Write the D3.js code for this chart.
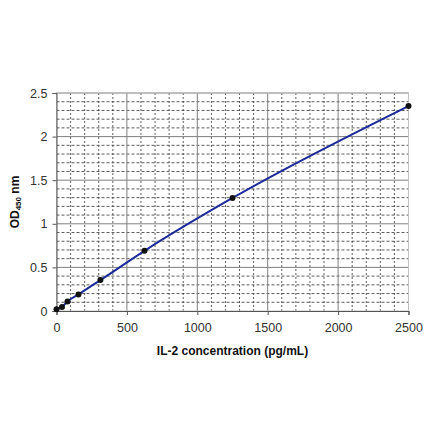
<!DOCTYPE html>
<html>
<head>
<meta charset="utf-8">
<script src="https://cdn.jsdelivr.net/npm/d3@7"></script>
<style>
  body { margin: 0; background: #fff; }
  svg { display: block; font-family: "Liberation Sans", Arial, sans-serif; }
</style>
</head>
<body>
<svg id="chart" width="440" height="441"></svg>
<script>
// IL-2 standard curve
var concentrations = [0, 39, 78, 156, 312, 625, 1250, 2500];
var odValues = [0.02, 0.046, 0.11, 0.19, 0.355, 0.69, 1.296, 2.35];
var xTicks = [0, 500, 1000, 1500, 2000, 2500];
var yTicks = [0, 0.5, 1, 1.5, 2, 2.5];

var svg = d3.select("#chart");
var margin = {left: 56.5, right: 408.5, top: 93, bottom: 311};

var x = d3.scaleLinear().domain([0, 2500]).range([margin.left, margin.right]);
var y = d3.scaleLinear().domain([0, 2.5]).range([margin.bottom, margin.top]);

// minor grid (dashed)
var minorX = d3.range(100, 2500, 100).filter(function(d) { return d % 500 != 0; });
var minorY = d3.range(1, 25).map(function(d) { return d / 10; }).filter(function(d, i) { return (i + 1) % 5 != 0; });

svg.append("g").selectAll("line").data(minorX).enter().append("line")
  .attr("x1", function(d) { return x(d); }).attr("x2", function(d) { return x(d); })
  .attr("y1", y(0)).attr("y2", y(2.5))
  .attr("stroke", "#333").attr("stroke-width", 0.8).attr("stroke-dasharray", "2,2");
svg.append("g").selectAll("line").data(minorY).enter().append("line")
  .attr("y1", function(d) { return y(d); }).attr("y2", function(d) { return y(d); })
  .attr("x1", x(0)).attr("x2", x(2500))
  .attr("stroke", "#333").attr("stroke-width", 0.8).attr("stroke-dasharray", "3,2");

// major grid (solid)
svg.append("g").selectAll("line").data(xTicks.slice(1)).enter().append("line")
  .attr("x1", function(d) { return x(d); }).attr("x2", function(d) { return x(d); })
  .attr("y1", y(0)).attr("y2", y(2.5))
  .attr("stroke", "#7f7f7f").attr("stroke-width", 1);
svg.append("g").selectAll("line").data(yTicks.slice(1)).enter().append("line")
  .attr("y1", function(d) { return y(d); }).attr("y2", function(d) { return y(d); })
  .attr("x1", x(0)).attr("x2", x(2500))
  .attr("stroke", "#7f7f7f").attr("stroke-width", 1);

// light frame top/right
svg.append("rect")
  .attr("x", x(0)).attr("y", y(2.5))
  .attr("width", x(2500) - x(0)).attr("height", y(0) - y(2.5))
  .attr("fill", "none").attr("stroke", "#c0c0c0").attr("stroke-width", 1);

// axes
var xAxis = d3.axisBottom(x).tickValues(xTicks).tickSize(4).tickPadding(8).tickFormat(d3.format("d"));
var yAxis = d3.axisLeft(y).tickValues(yTicks).tickSize(4).tickPadding(5).tickFormat(function(d) { return d; });

var gx = svg.append("g").attr("transform", "translate(0," + y(0) + ")").call(xAxis);
var gy = svg.append("g").attr("transform", "translate(" + x(0) + ",0)").call(yAxis);
[gx, gy].forEach(function(g) {
  g.select(".domain").attr("stroke", "#555");
  g.selectAll(".tick line").attr("stroke", "#555");
  g.selectAll(".tick text").attr("fill", "#333").style("font-size", "12.5px")
   .style("font-family", "'Liberation Sans', Arial, sans-serif");
});

// curve
var line = d3.line()
  .x(function(d, i) { return x(concentrations[i]); })
  .y(function(d) { return y(d); })
  .curve(d3.curveMonotoneX);
svg.append("path").datum(odValues)
  .attr("d", line).attr("fill", "none")
  .attr("stroke", "#1c2a9a").attr("stroke-width", 2);

// points
svg.append("g").selectAll("circle").data(odValues).enter().append("circle")
  .attr("cx", function(d, i) { return x(concentrations[i]); })
  .attr("cy", function(d) { return y(d); })
  .attr("r", 3).attr("fill", "#111");

// titles
svg.append("text")
  .attr("x", (x(0) + x(2500)) / 2).attr("y", 355)
  .attr("text-anchor", "middle")
  .style("font-size", "12px").style("font-weight", "bold").attr("fill", "#111")
  .text("IL-2 concentration (pg/mL)");

var yt = svg.append("text")
  .attr("transform", "translate(19," + ((y(0) + y(2.5)) / 2) + ") rotate(-90)")
  .attr("text-anchor", "middle")
  .style("font-size", "12px").style("font-weight", "bold").attr("fill", "#111");
yt.append("tspan").text("OD");
yt.append("tspan").style("font-size", "8px").attr("dy", 2).text("450");
yt.append("tspan").attr("dy", -2).text(" nm");
</script>
</body>
</html>
